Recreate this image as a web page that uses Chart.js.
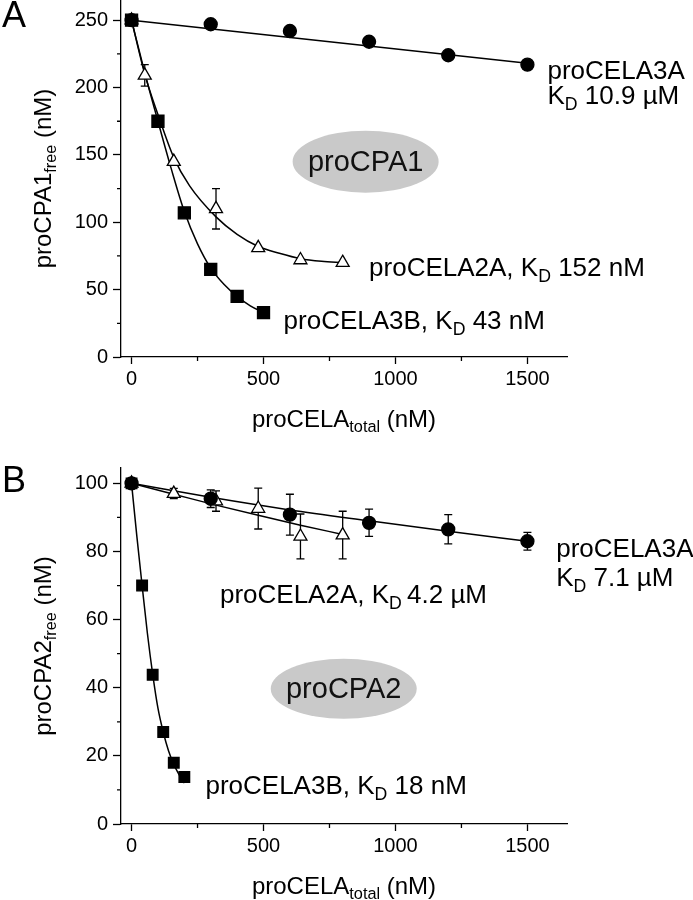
<!DOCTYPE html>
<html>
<head>
<meta charset="utf-8">
<script src="https://cdn.jsdelivr.net/npm/chart.js@4"></script>
<style>
  html, body { margin: 0; padding: 0; background: #fff; }
  .panel { width: 693px; height: 450px; }
  canvas { display: block; }
</style>
</head>
<body>
<div class="panel"><canvas id="chartA" width="693" height="450"></canvas></div>
<div class="panel"><canvas id="chartB" width="693" height="450"></canvas></div>
<script>
// axis ticks
const xMajorTicks = [0, 500, 1000, 1500];
const xMinorTicks = [250, 750, 1250];
const aYTicks = [0, 50, 100, 150, 200, 250];
const aYMinor = [25, 75, 125, 175, 225];
const bYTicks = [0, 20, 40, 60, 80, 100];
const bYMinor = [10, 30, 50, 70, 90];

// panel A: proCPA1
const a3aX = [0, 300, 600, 900, 1200, 1500];
const a3aY = [250, 247, 242, 234, 224, 217];
const a2aX = [0, 50, 160, 320, 480, 640, 800];
const a2aY = [250, 209, 145, 110, 81, 72, 70];
const a2aErr = [0, 8, 0, 15, 0, 0, 0];
const a3bX = [0, 100, 200, 300, 400, 500];
const a3bY = [250, 175, 107, 65, 45, 33];
// fitted curves
const a3aFitX = [0, 1500];
const a3aFitY = [250, 218];
const a2aFitX = [0, 50, 100, 160, 220, 320, 400, 480, 560, 640, 720, 800];
const a2aFitY = [250, 210, 180, 148, 127, 104, 91, 82, 77, 73, 71, 70];
const a3bFitX = [0, 50, 100, 150, 200, 250, 300, 350, 400, 450, 500];
const a3bFitY = [250, 211, 175, 140, 108, 84, 66, 54, 45, 38, 33];

// panel B: proCPA2
const b3aX = [0, 300, 600, 900, 1200, 1500];
const b3aY = [100, 95.5, 90.8, 88.4, 86.5, 83];
const b3aErr = [0, 2.6, 6, 4, 4.3, 2.6];
const b2aX = [0, 160, 320, 480, 640, 800];
const b2aY = [100, 97, 94.8, 92.6, 84.4, 84.8];
const b2aErr = [0, 1.5, 3, 6, 6.6, 7];
const b3bX = [0, 40, 80, 120, 160, 200];
const b3bY = [100, 70, 43.8, 27, 18, 13.8];
const b3aFitX = [0, 300, 600, 900, 1200, 1500];
const b3aFitY = [100, 95.9, 92.2, 89, 85.9, 83];
const b2aFitX = [0, 160, 320, 480, 640, 800];
const b2aFitY = [100, 96.8, 93.6, 90.6, 87.7, 85];
const b3bFitX = [0, 20, 40, 60, 80, 100, 120, 140, 160, 180, 200];
const b3bFitY = [100, 84.5, 70, 56, 44, 34, 27, 21.5, 17.5, 14.5, 12];

const FONT = '"Liberation Sans", Arial, sans-serif';

function pts(xs, ys) {
  return xs.map((x, i) => ({ x: x, y: ys[i] }));
}

function markers(xs, ys, style, r, fill) {
  return {
    data: pts(xs, ys), showLine: false, pointStyle: style, pointRadius: r,
    pointBackgroundColor: fill, pointBorderColor: '#000', pointBorderWidth: 1.3, clip: false
  };
}

function fitLine(xs, ys) {
  return {
    data: pts(xs, ys), showLine: true, pointRadius: 0, borderColor: '#000',
    borderWidth: 1.5, cubicInterpolationMode: 'monotone', fill: false, clip: false
  };
}

// text with subscripts: parts = [[text, isSub], ...]
function richText(ctx, parts, x, y, size, align) {
  const subSize = size * 0.68;
  let w = 0;
  parts.forEach(p => {
    ctx.font = (p[1] ? subSize : size) + 'px ' + FONT;
    w += ctx.measureText(p[0]).width;
  });
  let cx = align === 'center' ? x - w / 2 : x;
  ctx.textAlign = 'left';
  ctx.textBaseline = 'middle';
  parts.forEach(p => {
    ctx.font = (p[1] ? subSize : size) + 'px ' + FONT;
    ctx.fillText(p[0], cx, y + (p[1] ? size * 0.32 : 0));
    cx += ctx.measureText(p[0]).width;
  });
}

const decorations = {
  id: 'decorations',
  beforeDatasetsDraw(chart, args, opts) {
    const ctx = chart.ctx, xs = chart.scales.x, ys = chart.scales.y;
    ctx.save();
    ctx.strokeStyle = '#000';
    ctx.lineWidth = 1.3;
    (opts.errors || []).forEach(e => {
      e.x.forEach((xv, i) => {
        if (!e.err[i]) return;
        const px = xs.getPixelForValue(xv);
        const top = ys.getPixelForValue(e.y[i] + e.err[i]);
        const bot = ys.getPixelForValue(e.y[i] - e.err[i]);
        ctx.beginPath();
        ctx.moveTo(px, top); ctx.lineTo(px, bot);
        ctx.moveTo(px - 4, top); ctx.lineTo(px + 4, top);
        ctx.moveTo(px - 4, bot); ctx.lineTo(px + 4, bot);
        ctx.stroke();
      });
    });
    // grey ellipse with the protein name
    const el = opts.ellipse;
    const ex = xs.getPixelForValue(el.x), ey = ys.getPixelForValue(el.y);
    ctx.fillStyle = '#c9c9c9';
    ctx.beginPath();
    ctx.ellipse(ex, ey, el.rx, el.ry, 0, 0, Math.PI * 2);
    ctx.fill();
    ctx.fillStyle = '#111';
    ctx.font = el.size + 'px ' + FONT;
    ctx.textAlign = 'center';
    ctx.textBaseline = 'middle';
    ctx.fillText(el.text, ex, ey + 1);
    ctx.restore();
  },
  afterDraw(chart, args, opts) {
    const ctx = chart.ctx, xs = chart.scales.x, ys = chart.scales.y;
    const area = chart.chartArea;
    ctx.save();
    ctx.strokeStyle = '#000';
    ctx.lineWidth = 1.3;
    ctx.beginPath();
    xMinorTicks.forEach(v => {
      const px = xs.getPixelForValue(v);
      ctx.moveTo(px, area.bottom); ctx.lineTo(px, area.bottom + 4);
    });
    opts.yMinor.forEach(v => {
      const py = ys.getPixelForValue(v);
      ctx.moveTo(area.left, py); ctx.lineTo(area.left - 4, py);
    });
    ctx.stroke();

    ctx.fillStyle = '#000';
    // axis titles
    richText(ctx, [['proCELA'], ['total', true], [' (nM)']], (area.left + area.right) / 2, area.bottom + 63, 24, 'center');
    ctx.save();
    ctx.translate(44, (area.top + area.bottom) / 2);
    ctx.rotate(-Math.PI / 2);
    richText(ctx, opts.yTitle, 0, 0, 24, 'center');
    ctx.restore();

    // panel letter
    ctx.font = '36px ' + FONT;
    ctx.textAlign = 'left';
    ctx.textBaseline = 'middle';
    ctx.fillText(opts.letter[0], 2, opts.letter[1]);

    // curve labels
    opts.labels.forEach(l => {
      richText(ctx, l.parts, xs.getPixelForValue(l.x), ys.getPixelForValue(l.y), 26, 'left');
    });
    ctx.restore();
  }
};

function makeScales(yMax, yTicks, xHeight) {
  return {
    x: {
      type: 'linear', min: -40, max: 1650,
      afterBuildTicks: s => { s.ticks = xMajorTicks.map(v => ({ value: v })); },
      afterFit: s => { s.height = xHeight; s.paddingLeft = 0; s.paddingRight = 0; },
      ticks: { autoSkip: false, maxRotation: 0, color: '#000', padding: 3, callback: v => String(v),
               font: { family: FONT, size: 20 } },
      grid: { drawOnChartArea: false, tickLength: 7, tickColor: '#000', tickWidth: 1.3 },
      border: { color: '#000', width: 1.3 }
    },
    y: {
      type: 'linear', min: 0, max: yMax,
      afterBuildTicks: s => { s.ticks = yTicks.map(v => ({ value: v })); },
      afterFit: s => { s.width = 121; s.paddingTop = 0; s.paddingBottom = 0; },
      ticks: { autoSkip: false, color: '#000', padding: 5, callback: v => String(v),
               font: { family: FONT, size: 20, lineHeight: 0.05 } },
      grid: { drawOnChartArea: false, tickLength: 8, tickColor: '#000', tickWidth: 1.3 },
      border: { color: '#000', width: 1.3 }
    }
  };
}

new Chart(document.getElementById('chartA'), {
  type: 'scatter',
  data: {
    datasets: [
      markers(a3aX, a3aY, 'circle', 6.5, '#000'),
      markers(a3bX, a3bY, 'rect', 8.5, '#000'),
      markers(a2aX, a2aY, 'triangle', 7.5, '#fff'),
      fitLine(a3aFitX, a3aFitY),
      fitLine(a2aFitX, a2aFitY),
      fitLine(a3bFitX, a3bFitY)
    ]
  },
  options: {
    responsive: false,
    animation: false,
    layout: { autoPadding: false, padding: { top: 0, right: 126, bottom: 0, left: 0 } },
    scales: makeScales(265, aYTicks, 93),
    plugins: {
      legend: { display: false },
      tooltip: { enabled: false },
      decorations: {
        letter: ['A', 17],
        yMinor: aYMinor,
        yTitle: [['proCPA1'], ['free', true], [' (nM)']],
        errors: [{ x: a2aX, y: a2aY, err: a2aErr }],
        ellipse: { x: 887, y: 145, rx: 73, ry: 31, text: 'proCPA1', size: 29 },
        labels: [
          { x: 1576, y: 212, parts: [['proCELA3A']] },
          { x: 1576, y: 193, parts: [['K'], ['D', true], [' 10.9 \u00b5M']] },
          { x: 900, y: 65.7, parts: [['proCELA2A, K'], ['D', true], [' 152 nM']] },
          { x: 576, y: 26, parts: [['proCELA3B, K'], ['D', true], [' 43 nM']] }
        ]
      }
    }
  },
  plugins: [decorations]
});

new Chart(document.getElementById('chartB'), {
  type: 'scatter',
  data: {
    datasets: [
      markers(b3aX, b3aY, 'circle', 6.5, '#000'),
      markers(b3bX, b3bY, 'rect', 7.5, '#000'),
      markers(b2aX, b2aY, 'triangle', 7.5, '#fff'),
      fitLine(b3aFitX, b3aFitY),
      fitLine(b2aFitX, b2aFitY),
      fitLine(b3bFitX, b3bFitY)
    ]
  },
  options: {
    responsive: false,
    animation: false,
    layout: { autoPadding: false, padding: { top: 18, right: 126, bottom: 0, left: 0 } },
    scales: makeScales(104.5, bYTicks, 76),
    plugins: {
      legend: { display: false },
      tooltip: { enabled: false },
      decorations: {
        letter: ['B', 32],
        yMinor: bYMinor,
        yTitle: [['proCPA2'], ['free', true], [' (nM)']],
        errors: [{ x: b3aX, y: b3aY, err: b3aErr }, { x: b2aX, y: b2aY, err: b2aErr }],
        ellipse: { x: 804, y: 39.7, rx: 73, ry: 30, text: 'proCPA2', size: 29 },
        labels: [
          { x: 1609, y: 80.4, parts: [['proCELA3A']] },
          { x: 1609, y: 72.1, parts: [['K'], ['D', true], [' 7.1 \u00b5M']] },
          { x: 335, y: 67, parts: [['proCELA2A, K'], ['D', true], ['\u20094.2 \u00b5M']] },
          { x: 280, y: 11, parts: [['proCELA3B, K'], ['D', true], [' 18 nM']] }
        ]
      }
    }
  },
  plugins: [decorations]
});
</script>
</body>
</html>
